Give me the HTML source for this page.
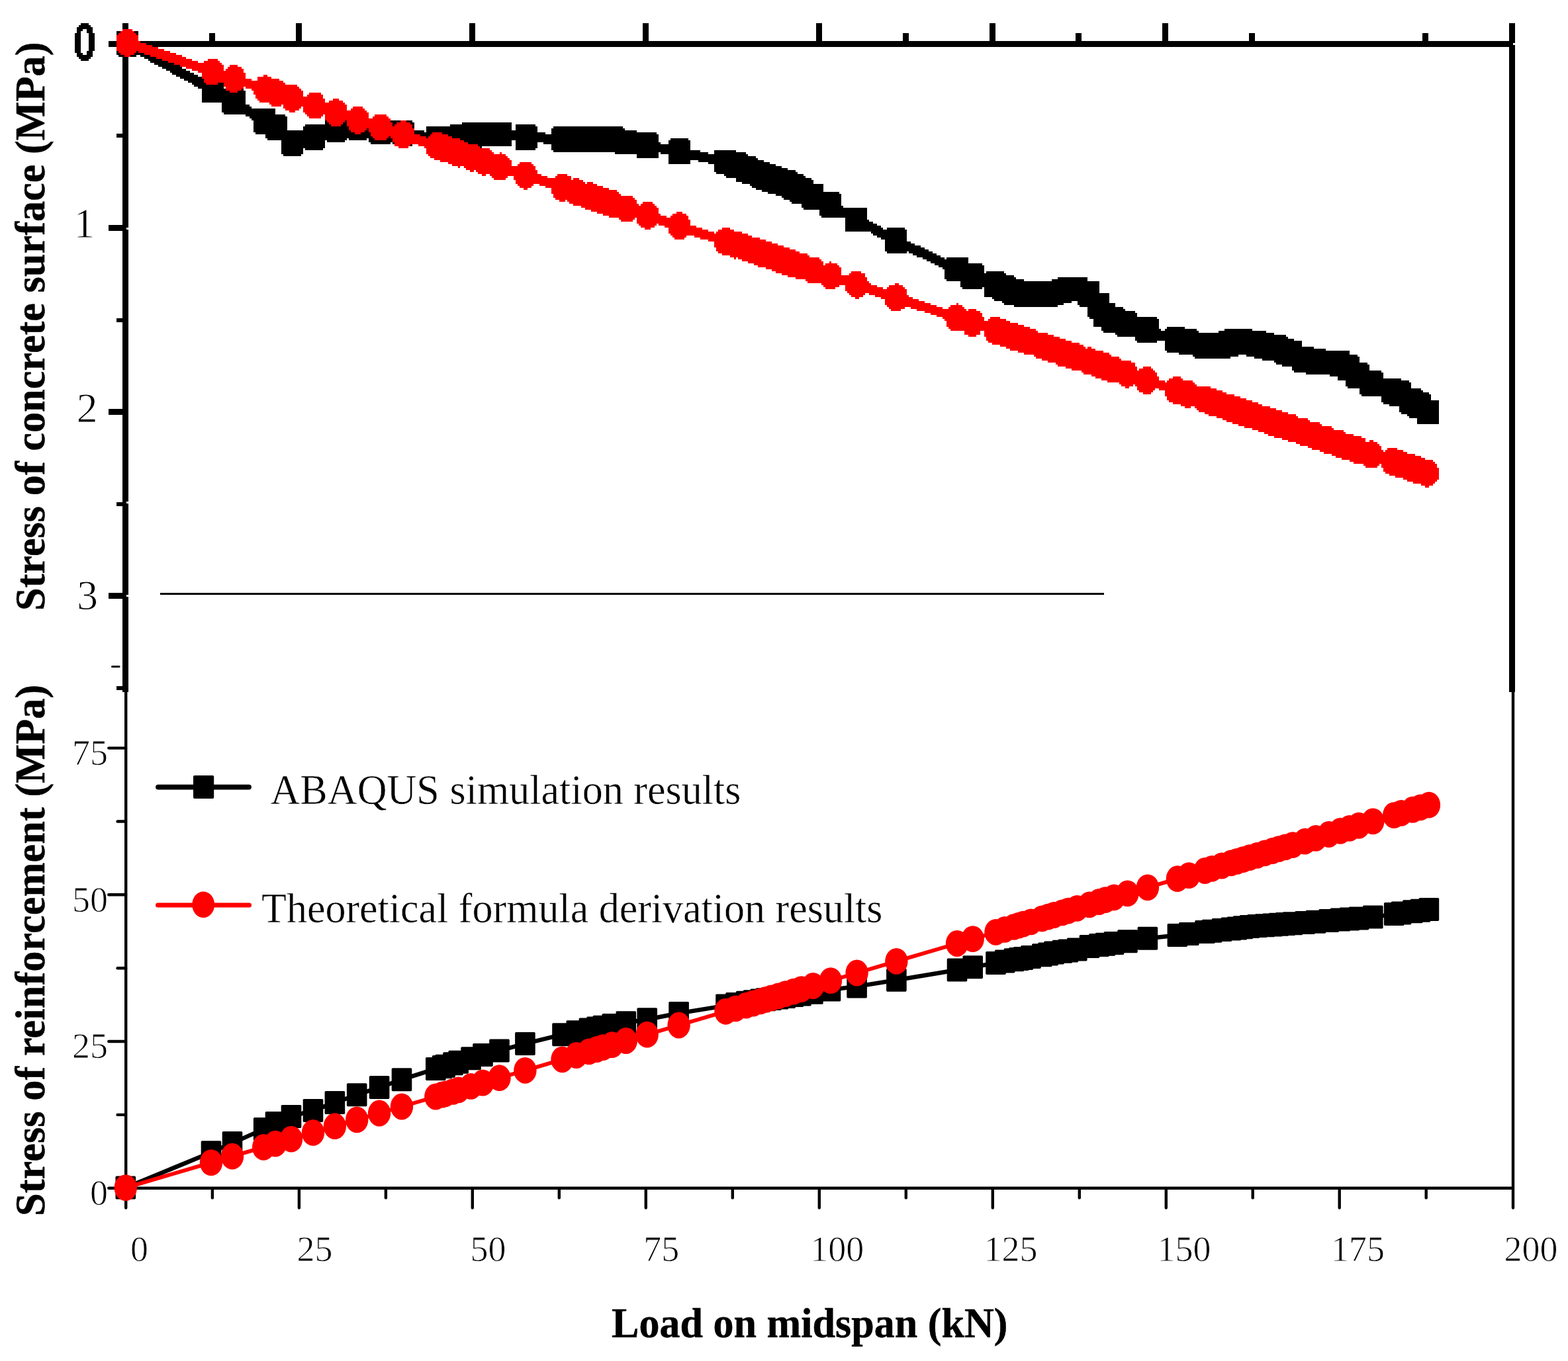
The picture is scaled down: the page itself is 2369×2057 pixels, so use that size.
<!DOCTYPE html>
<html lang="en"><head><meta charset="utf-8"><title>Stress vs load on midspan</title>
<style>html,body{margin:0;padding:0;background:#fff}body{width:2369px;height:2057px}svg{display:block}text{font-family:"Liberation Serif","Noto Serif CJK SC",serif;fill:#000}.b{font-weight:bold;stroke:#000;stroke-width:0.5px}</style></head><body>
<svg width="2369" height="2057" viewBox="0 0 2369 2057">
<defs><filter id="pix" filterUnits="userSpaceOnUse" x="0" y="0" width="2369" height="1050" color-interpolation-filters="sRGB"><feFlood x="1" y="1" width="1" height="1" flood-color="#000"/><feComposite width="3" height="3"/><feTile result="g"/><feComposite in="SourceGraphic" in2="g" operator="in"/><feComponentTransfer><feFuncA type="discrete" tableValues="0 1"/></feComponentTransfer><feMorphology operator="dilate" radius="1"/></filter></defs>
<rect width="2369" height="2057" fill="#fff"/>
<text x="197" y="1905.7" font-size="54" text-anchor="start" stroke="#fff" stroke-width="0.9">0</text>
<text x="448.5" y="1905.7" font-size="54" text-anchor="start" stroke="#fff" stroke-width="0.9">25</text>
<text x="710.5" y="1905.7" font-size="54" text-anchor="start" stroke="#fff" stroke-width="0.9">50</text>
<text x="972.3" y="1905.7" font-size="54" text-anchor="start" stroke="#fff" stroke-width="0.9">75</text>
<text x="1224.3" y="1905.7" font-size="54" text-anchor="start" stroke="#fff" stroke-width="0.9">100</text>
<text x="1486.5" y="1905.7" font-size="54" text-anchor="start" stroke="#fff" stroke-width="0.9">125</text>
<text x="1748.5" y="1905.7" font-size="54" text-anchor="start" stroke="#fff" stroke-width="0.9">150</text>
<text x="2011" y="1905.7" font-size="54" text-anchor="start" stroke="#fff" stroke-width="0.9">175</text>
<text x="2272.5" y="1905.7" font-size="54" text-anchor="start" stroke="#fff" stroke-width="0.9">200</text>
<text x="163" y="1155.9" font-size="54" text-anchor="end" stroke="#fff" stroke-width="0.9">75</text>
<text x="163" y="1377.8" font-size="54" text-anchor="end" stroke="#fff" stroke-width="0.9">50</text>
<text x="163" y="1598.8" font-size="54" text-anchor="end" stroke="#fff" stroke-width="0.9">25</text>
<text x="163" y="1820.5" font-size="54" text-anchor="end" stroke="#fff" stroke-width="0.9">0</text>
<text x="111.5" y="358.7" font-size="63.5" text-anchor="start" stroke="#fff" stroke-width="0.9">1</text>
<text x="115.8" y="637.9" font-size="63.5" text-anchor="start" stroke="#fff" stroke-width="0.9">2</text>
<text x="116.3" y="921.1" font-size="63.5" text-anchor="start" stroke="#fff" stroke-width="0.9">3</text>
<g stroke="#000" stroke-width="4.4" stroke-linecap="round" fill="none">
<path d="M190.2 1046V1825.6"/>
<path d="M2286 1046V1825.6"/>
<path d="M164.3 1795.7H2286"/>
<path d="M451.9 1796V1825.6"/>
<path d="M713.8 1796V1825.6"/>
<path d="M975.8 1796V1825.6"/>
<path d="M1237.8 1796V1825.6"/>
<path d="M1499.8 1796V1825.6"/>
<path d="M1761.8 1796V1825.6"/>
<path d="M2023.7 1796V1825.6"/>
<path d="M320.9 1796V1810.4"/>
<path d="M582.9 1796V1810.4"/>
<path d="M844.8 1796V1810.4"/>
<path d="M1106.8 1796V1810.4"/>
<path d="M1368.8 1796V1810.4"/>
<path d="M1630.8 1796V1810.4"/>
<path d="M1892.7 1796V1810.4"/>
<path d="M2154.7 1796V1810.4"/>
<path d="M164.3 1574H190"/>
<path d="M164.3 1352.3H190"/>
<path d="M164.3 1130.6H190"/>
<path d="M177.6 1684.9H190"/>
<path d="M177.6 1463.2H190"/>
<path d="M177.6 1241.5H190"/>
</g>
<path d="M169.5 1007.5H180" stroke="#000" stroke-width="3" stroke-linecap="round"/>
<path d="M242 897.4H1668" stroke="#000" stroke-width="3"/>
<g fill="#000" shape-rendering="crispEdges">
<rect x="185" y="35" width="9" height="1011"/>
<rect x="2280" y="35" width="9" height="1011"/>
<rect x="164" y="62" width="2125" height="9"/>
<rect x="447" y="35" width="9" height="28"/>
<rect x="709" y="35" width="9" height="28"/>
<rect x="971" y="35" width="9" height="28"/>
<rect x="1233" y="35" width="9" height="28"/>
<rect x="1495" y="35" width="9" height="28"/>
<rect x="1756" y="35" width="9" height="28"/>
<rect x="316" y="50" width="9" height="13"/>
<rect x="1364" y="50" width="9" height="13"/>
<rect x="1625" y="50" width="9" height="13"/>
<rect x="1887" y="50" width="9" height="13"/>
<rect x="2149" y="50" width="9" height="13"/>
<rect x="164" y="340" width="22" height="9"/>
<rect x="164" y="618" width="22" height="9"/>
<rect x="164" y="896" width="22" height="9"/>
<rect x="176" y="202" width="10" height="6"/>
<rect x="176" y="481" width="10" height="6"/>
<rect x="176" y="759" width="10" height="6"/>
<rect x="176" y="1037" width="10" height="6"/>
<path d="M2286 65h3v3h-3zM191 344h3v3h-3zM191 758h3v3h-3zM191 899h3v3h-3z" fill="#fff"/>
</g>
<g shape-rendering="crispEdges">
<polyline points="192.5,65.5 321.4,135.8 353.3,154.1 400.4,183.6 418.1,193.2 442,215.8 475,207.1 507.8,195.4 541,192.2 574.8,198.2 608.6,200.5 659.8,209 669.7,209 674,209 685.9,209 694.1,207.8 712.9,205.3 730.8,203 755.7,203.1 794.5,207 850.5,211 871.7,209.4 890.8,209.5 902.4,209.6 911.7,209.7 925.6,209.9 946.5,215.1 978.4,220.3 1026.1,229.5 1096.8,244.7 1111.8,250.3 1127.5,256.2 1138.2,260.2 1148.9,264.1 1157.2,267 1165.7,270 1176.1,273.6 1186.8,277.3 1199,282.9 1210.5,288.3 1228.4,296.8 1254.9,310.1 1294.4,332.2 1354.1,363.9 1445.4,407.1 1469.1,417.4 1503.8,430.6 1517.3,436.2 1531.2,441.1 1538.5,443 1545.1,443.6 1556.6,444.8 1573.4,444.7 1582.7,443.7 1591.6,442.8 1604,440 1612.9,437.1 1626.3,436.8 1644.9,444.6 1659.4,462.1 1668.9,475.8 1681.8,483.6 1702.3,490.3 1732.6,498.9 1777.5,514.5 1794.8,517.1 1819,522.5 1829.4,523.2 1844.4,522.5 1858.4,518.3 1867.3,514.9 1876.3,516.2 1886.3,518.2 1897.8,520.4 1909.2,522.5 1920.8,524.6 1930.2,526.6 1940.1,530.4 1951.1,534.8 1969.7,543.2 1986,545.6 2005.7,547.7 2022.9,549.3 2036.9,556 2050.9,567.4 2072.1,579.2 2103.9,592.1 2114.7,594.8 2132,606.7 2143.6,613.2 2156.5,623.2" fill="none" stroke="#000" stroke-width="10.4" stroke-linejoin="round"/>
<path d="M180.3 48.6h24.4l2.5 2.5v28.8l-2.5 2.5h-24.4l-2.5 -2.5v-28.8zM309.2 118.9h24.4l2.5 2.5v28.8l-2.5 2.5h-24.4l-2.5 -2.5v-28.8zM341.1 137.2h24.4l2.5 2.5v28.8l-2.5 2.5h-24.4l-2.5 -2.5v-28.8zM388.2 166.7h24.4l2.5 2.5v28.8l-2.5 2.5h-24.4l-2.5 -2.5v-28.8zM405.9 176.3h24.4l2.5 2.5v28.8l-2.5 2.5h-24.4l-2.5 -2.5v-28.8zM429.8 198.9h24.4l2.5 2.5v28.8l-2.5 2.5h-24.4l-2.5 -2.5v-28.8zM462.8 190.2h24.4l2.5 2.5v28.8l-2.5 2.5h-24.4l-2.5 -2.5v-28.8zM495.6 178.5h24.4l2.5 2.5v28.8l-2.5 2.5h-24.4l-2.5 -2.5v-28.8zM528.8 175.3h24.4l2.5 2.5v28.8l-2.5 2.5h-24.4l-2.5 -2.5v-28.8zM562.6 181.3h24.4l2.5 2.5v28.8l-2.5 2.5h-24.4l-2.5 -2.5v-28.8zM596.4 183.6h24.4l2.5 2.5v28.8l-2.5 2.5h-24.4l-2.5 -2.5v-28.8zM647.6 192.1h24.4l2.5 2.5v28.8l-2.5 2.5h-24.4l-2.5 -2.5v-28.8zM657.5 192.1h24.4l2.5 2.5v28.8l-2.5 2.5h-24.4l-2.5 -2.5v-28.8zM661.8 192.1h24.4l2.5 2.5v28.8l-2.5 2.5h-24.4l-2.5 -2.5v-28.8zM673.7 192.1h24.4l2.5 2.5v28.8l-2.5 2.5h-24.4l-2.5 -2.5v-28.8zM681.9 190.9h24.4l2.5 2.5v28.8l-2.5 2.5h-24.4l-2.5 -2.5v-28.8zM700.7 188.4h24.4l2.5 2.5v28.8l-2.5 2.5h-24.4l-2.5 -2.5v-28.8zM718.6 186.1h24.4l2.5 2.5v28.8l-2.5 2.5h-24.4l-2.5 -2.5v-28.8zM743.5 186.2h24.4l2.5 2.5v28.8l-2.5 2.5h-24.4l-2.5 -2.5v-28.8zM782.3 190.1h24.4l2.5 2.5v28.8l-2.5 2.5h-24.4l-2.5 -2.5v-28.8zM838.3 194.1h24.4l2.5 2.5v28.8l-2.5 2.5h-24.4l-2.5 -2.5v-28.8zM859.5 192.5h24.4l2.5 2.5v28.8l-2.5 2.5h-24.4l-2.5 -2.5v-28.8zM878.6 192.6h24.4l2.5 2.5v28.8l-2.5 2.5h-24.4l-2.5 -2.5v-28.8zM890.2 192.7h24.4l2.5 2.5v28.8l-2.5 2.5h-24.4l-2.5 -2.5v-28.8zM899.5 192.8h24.4l2.5 2.5v28.8l-2.5 2.5h-24.4l-2.5 -2.5v-28.8zM913.4 193h24.4l2.5 2.5v28.8l-2.5 2.5h-24.4l-2.5 -2.5v-28.8zM934.3 198.2h24.4l2.5 2.5v28.8l-2.5 2.5h-24.4l-2.5 -2.5v-28.8zM966.2 203.4h24.4l2.5 2.5v28.8l-2.5 2.5h-24.4l-2.5 -2.5v-28.8zM1013.9 212.6h24.4l2.5 2.5v28.8l-2.5 2.5h-24.4l-2.5 -2.5v-28.8zM1084.6 227.8h24.4l2.5 2.5v28.8l-2.5 2.5h-24.4l-2.5 -2.5v-28.8zM1099.6 233.4h24.4l2.5 2.5v28.8l-2.5 2.5h-24.4l-2.5 -2.5v-28.8zM1115.3 239.3h24.4l2.5 2.5v28.8l-2.5 2.5h-24.4l-2.5 -2.5v-28.8zM1126 243.3h24.4l2.5 2.5v28.8l-2.5 2.5h-24.4l-2.5 -2.5v-28.8zM1136.7 247.2h24.4l2.5 2.5v28.8l-2.5 2.5h-24.4l-2.5 -2.5v-28.8zM1145 250.1h24.4l2.5 2.5v28.8l-2.5 2.5h-24.4l-2.5 -2.5v-28.8zM1153.5 253.1h24.4l2.5 2.5v28.8l-2.5 2.5h-24.4l-2.5 -2.5v-28.8zM1163.9 256.7h24.4l2.5 2.5v28.8l-2.5 2.5h-24.4l-2.5 -2.5v-28.8zM1174.6 260.4h24.4l2.5 2.5v28.8l-2.5 2.5h-24.4l-2.5 -2.5v-28.8zM1186.8 266h24.4l2.5 2.5v28.8l-2.5 2.5h-24.4l-2.5 -2.5v-28.8zM1198.3 271.4h24.4l2.5 2.5v28.8l-2.5 2.5h-24.4l-2.5 -2.5v-28.8zM1216.2 279.9h24.4l2.5 2.5v28.8l-2.5 2.5h-24.4l-2.5 -2.5v-28.8zM1242.7 293.2h24.4l2.5 2.5v28.8l-2.5 2.5h-24.4l-2.5 -2.5v-28.8zM1282.2 315.3h24.4l2.5 2.5v28.8l-2.5 2.5h-24.4l-2.5 -2.5v-28.8zM1341.9 347h24.4l2.5 2.5v28.8l-2.5 2.5h-24.4l-2.5 -2.5v-28.8zM1433.2 390.2h24.4l2.5 2.5v28.8l-2.5 2.5h-24.4l-2.5 -2.5v-28.8zM1456.9 400.5h24.4l2.5 2.5v28.8l-2.5 2.5h-24.4l-2.5 -2.5v-28.8zM1491.6 413.7h24.4l2.5 2.5v28.8l-2.5 2.5h-24.4l-2.5 -2.5v-28.8zM1505.1 419.3h24.4l2.5 2.5v28.8l-2.5 2.5h-24.4l-2.5 -2.5v-28.8zM1519 424.2h24.4l2.5 2.5v28.8l-2.5 2.5h-24.4l-2.5 -2.5v-28.8zM1526.3 426.1h24.4l2.5 2.5v28.8l-2.5 2.5h-24.4l-2.5 -2.5v-28.8zM1532.9 426.7h24.4l2.5 2.5v28.8l-2.5 2.5h-24.4l-2.5 -2.5v-28.8zM1544.4 427.9h24.4l2.5 2.5v28.8l-2.5 2.5h-24.4l-2.5 -2.5v-28.8zM1561.2 427.8h24.4l2.5 2.5v28.8l-2.5 2.5h-24.4l-2.5 -2.5v-28.8zM1570.5 426.8h24.4l2.5 2.5v28.8l-2.5 2.5h-24.4l-2.5 -2.5v-28.8zM1579.4 425.9h24.4l2.5 2.5v28.8l-2.5 2.5h-24.4l-2.5 -2.5v-28.8zM1591.8 423.1h24.4l2.5 2.5v28.8l-2.5 2.5h-24.4l-2.5 -2.5v-28.8zM1600.7 420.2h24.4l2.5 2.5v28.8l-2.5 2.5h-24.4l-2.5 -2.5v-28.8zM1614.1 419.9h24.4l2.5 2.5v28.8l-2.5 2.5h-24.4l-2.5 -2.5v-28.8zM1632.7 427.7h24.4l2.5 2.5v28.8l-2.5 2.5h-24.4l-2.5 -2.5v-28.8zM1647.2 445.2h24.4l2.5 2.5v28.8l-2.5 2.5h-24.4l-2.5 -2.5v-28.8zM1656.7 458.9h24.4l2.5 2.5v28.8l-2.5 2.5h-24.4l-2.5 -2.5v-28.8zM1669.6 466.7h24.4l2.5 2.5v28.8l-2.5 2.5h-24.4l-2.5 -2.5v-28.8zM1690.1 473.4h24.4l2.5 2.5v28.8l-2.5 2.5h-24.4l-2.5 -2.5v-28.8zM1720.4 482h24.4l2.5 2.5v28.8l-2.5 2.5h-24.4l-2.5 -2.5v-28.8zM1765.3 497.6h24.4l2.5 2.5v28.8l-2.5 2.5h-24.4l-2.5 -2.5v-28.8zM1782.6 500.2h24.4l2.5 2.5v28.8l-2.5 2.5h-24.4l-2.5 -2.5v-28.8zM1806.8 505.6h24.4l2.5 2.5v28.8l-2.5 2.5h-24.4l-2.5 -2.5v-28.8zM1817.2 506.3h24.4l2.5 2.5v28.8l-2.5 2.5h-24.4l-2.5 -2.5v-28.8zM1832.2 505.6h24.4l2.5 2.5v28.8l-2.5 2.5h-24.4l-2.5 -2.5v-28.8zM1846.2 501.4h24.4l2.5 2.5v28.8l-2.5 2.5h-24.4l-2.5 -2.5v-28.8zM1855.1 498h24.4l2.5 2.5v28.8l-2.5 2.5h-24.4l-2.5 -2.5v-28.8zM1864.1 499.3h24.4l2.5 2.5v28.8l-2.5 2.5h-24.4l-2.5 -2.5v-28.8zM1874.1 501.3h24.4l2.5 2.5v28.8l-2.5 2.5h-24.4l-2.5 -2.5v-28.8zM1885.6 503.5h24.4l2.5 2.5v28.8l-2.5 2.5h-24.4l-2.5 -2.5v-28.8zM1897 505.6h24.4l2.5 2.5v28.8l-2.5 2.5h-24.4l-2.5 -2.5v-28.8zM1908.6 507.7h24.4l2.5 2.5v28.8l-2.5 2.5h-24.4l-2.5 -2.5v-28.8zM1918 509.7h24.4l2.5 2.5v28.8l-2.5 2.5h-24.4l-2.5 -2.5v-28.8zM1927.9 513.5h24.4l2.5 2.5v28.8l-2.5 2.5h-24.4l-2.5 -2.5v-28.8zM1938.9 517.9h24.4l2.5 2.5v28.8l-2.5 2.5h-24.4l-2.5 -2.5v-28.8zM1957.5 526.3h24.4l2.5 2.5v28.8l-2.5 2.5h-24.4l-2.5 -2.5v-28.8zM1973.8 528.7h24.4l2.5 2.5v28.8l-2.5 2.5h-24.4l-2.5 -2.5v-28.8zM1993.5 530.8h24.4l2.5 2.5v28.8l-2.5 2.5h-24.4l-2.5 -2.5v-28.8zM2010.7 532.4h24.4l2.5 2.5v28.8l-2.5 2.5h-24.4l-2.5 -2.5v-28.8zM2024.7 539.1h24.4l2.5 2.5v28.8l-2.5 2.5h-24.4l-2.5 -2.5v-28.8zM2038.7 550.5h24.4l2.5 2.5v28.8l-2.5 2.5h-24.4l-2.5 -2.5v-28.8zM2059.9 562.3h24.4l2.5 2.5v28.8l-2.5 2.5h-24.4l-2.5 -2.5v-28.8zM2091.7 575.2h24.4l2.5 2.5v28.8l-2.5 2.5h-24.4l-2.5 -2.5v-28.8zM2102.5 577.9h24.4l2.5 2.5v28.8l-2.5 2.5h-24.4l-2.5 -2.5v-28.8zM2119.8 589.8h24.4l2.5 2.5v28.8l-2.5 2.5h-24.4l-2.5 -2.5v-28.8zM2131.4 596.3h24.4l2.5 2.5v28.8l-2.5 2.5h-24.4l-2.5 -2.5v-28.8zM2144.3 606.3h24.4l2.5 2.5v28.8l-2.5 2.5h-24.4l-2.5 -2.5v-28.8z" fill="#000"/>
<polyline points="192.5,64.8 321.4,108.7 353.3,119.2 400.4,134.8 418.1,140.7 442,148.6 475,159.5 507.8,170.3 541,181.3 574.8,192.4 608.6,203.6 659.8,220.5 669.7,223.8 674,225.2 685.9,229.1 694.1,231.9 712.9,238.1 730.8,244 755.7,252.2 794.5,265 850.5,283.5 871.7,290.5 890.8,296.8 902.4,300.7 911.7,303.8 925.6,308.3 946.5,315.3 978.4,325.8 1026.1,341.6 1096.8,364.9 1111.8,369.9 1127.5,375 1138.2,378.6 1148.9,382.1 1157.2,384.9 1165.7,387.7 1176.1,391.1 1186.8,394.6 1199,398.7 1210.5,402.5 1228.4,408.4 1254.9,417.2 1294.4,430.2 1354.1,449.9 1445.4,480.1 1469.1,487.9 1503.8,499.4 1517.3,503.9 1531.2,508.4 1538.5,510.8 1545.1,513 1556.6,516.8 1573.4,522.4 1582.7,525.4 1591.6,528.4 1604,532.5 1612.9,535.4 1626.3,539.8 1644.9,546 1659.4,550.8 1668.9,553.9 1681.8,558.2 1702.3,565 1732.6,575 1777.5,589.8 1794.8,595.5 1819,603.5 1829.4,607 1844.4,611.9 1858.4,616.5 1867.3,619.5 1876.3,622.5 1886.3,625.8 1897.8,629.5 1909.2,633.3 1920.8,637.2 1930.2,640.3 1940.1,643.5 1951.1,647.2 1969.7,653.3 1986,658.7 2005.7,665.2 2022.9,670.9 2036.9,675.5 2050.9,680.1 2072.1,687.1 2103.9,697.7 2114.7,701.2 2132,707 2143.6,710.8 2156.5,715" fill="none" stroke="#fe0000" stroke-width="10.4" stroke-linejoin="round"/>
<path d="M177 64.8a15.5 18.5 0 1 0 31 0a15.5 18.5 0 1 0 -31 0zM305.9 108.7a15.5 18.5 0 1 0 31 0a15.5 18.5 0 1 0 -31 0zM337.8 119.2a15.5 18.5 0 1 0 31 0a15.5 18.5 0 1 0 -31 0zM384.9 134.8a15.5 18.5 0 1 0 31 0a15.5 18.5 0 1 0 -31 0zM402.6 140.7a15.5 18.5 0 1 0 31 0a15.5 18.5 0 1 0 -31 0zM426.5 148.6a15.5 18.5 0 1 0 31 0a15.5 18.5 0 1 0 -31 0zM459.5 159.5a15.5 18.5 0 1 0 31 0a15.5 18.5 0 1 0 -31 0zM492.3 170.3a15.5 18.5 0 1 0 31 0a15.5 18.5 0 1 0 -31 0zM525.5 181.3a15.5 18.5 0 1 0 31 0a15.5 18.5 0 1 0 -31 0zM559.3 192.4a15.5 18.5 0 1 0 31 0a15.5 18.5 0 1 0 -31 0zM593.1 203.6a15.5 18.5 0 1 0 31 0a15.5 18.5 0 1 0 -31 0zM644.3 220.5a15.5 18.5 0 1 0 31 0a15.5 18.5 0 1 0 -31 0zM654.2 223.8a15.5 18.5 0 1 0 31 0a15.5 18.5 0 1 0 -31 0zM658.5 225.2a15.5 18.5 0 1 0 31 0a15.5 18.5 0 1 0 -31 0zM670.4 229.1a15.5 18.5 0 1 0 31 0a15.5 18.5 0 1 0 -31 0zM678.6 231.9a15.5 18.5 0 1 0 31 0a15.5 18.5 0 1 0 -31 0zM697.4 238.1a15.5 18.5 0 1 0 31 0a15.5 18.5 0 1 0 -31 0zM715.3 244a15.5 18.5 0 1 0 31 0a15.5 18.5 0 1 0 -31 0zM740.2 252.2a15.5 18.5 0 1 0 31 0a15.5 18.5 0 1 0 -31 0zM779 265a15.5 18.5 0 1 0 31 0a15.5 18.5 0 1 0 -31 0zM835 283.5a15.5 18.5 0 1 0 31 0a15.5 18.5 0 1 0 -31 0zM856.2 290.5a15.5 18.5 0 1 0 31 0a15.5 18.5 0 1 0 -31 0zM875.3 296.8a15.5 18.5 0 1 0 31 0a15.5 18.5 0 1 0 -31 0zM886.9 300.7a15.5 18.5 0 1 0 31 0a15.5 18.5 0 1 0 -31 0zM896.2 303.8a15.5 18.5 0 1 0 31 0a15.5 18.5 0 1 0 -31 0zM910.1 308.3a15.5 18.5 0 1 0 31 0a15.5 18.5 0 1 0 -31 0zM931 315.3a15.5 18.5 0 1 0 31 0a15.5 18.5 0 1 0 -31 0zM962.9 325.8a15.5 18.5 0 1 0 31 0a15.5 18.5 0 1 0 -31 0zM1010.6 341.6a15.5 18.5 0 1 0 31 0a15.5 18.5 0 1 0 -31 0zM1081.3 364.9a15.5 18.5 0 1 0 31 0a15.5 18.5 0 1 0 -31 0zM1096.3 369.9a15.5 18.5 0 1 0 31 0a15.5 18.5 0 1 0 -31 0zM1112 375a15.5 18.5 0 1 0 31 0a15.5 18.5 0 1 0 -31 0zM1122.7 378.6a15.5 18.5 0 1 0 31 0a15.5 18.5 0 1 0 -31 0zM1133.4 382.1a15.5 18.5 0 1 0 31 0a15.5 18.5 0 1 0 -31 0zM1141.7 384.9a15.5 18.5 0 1 0 31 0a15.5 18.5 0 1 0 -31 0zM1150.2 387.7a15.5 18.5 0 1 0 31 0a15.5 18.5 0 1 0 -31 0zM1160.6 391.1a15.5 18.5 0 1 0 31 0a15.5 18.5 0 1 0 -31 0zM1171.3 394.6a15.5 18.5 0 1 0 31 0a15.5 18.5 0 1 0 -31 0zM1183.5 398.7a15.5 18.5 0 1 0 31 0a15.5 18.5 0 1 0 -31 0zM1195 402.5a15.5 18.5 0 1 0 31 0a15.5 18.5 0 1 0 -31 0zM1212.9 408.4a15.5 18.5 0 1 0 31 0a15.5 18.5 0 1 0 -31 0zM1239.4 417.2a15.5 18.5 0 1 0 31 0a15.5 18.5 0 1 0 -31 0zM1278.9 430.2a15.5 18.5 0 1 0 31 0a15.5 18.5 0 1 0 -31 0zM1338.6 449.9a15.5 18.5 0 1 0 31 0a15.5 18.5 0 1 0 -31 0zM1429.9 480.1a15.5 18.5 0 1 0 31 0a15.5 18.5 0 1 0 -31 0zM1453.6 487.9a15.5 18.5 0 1 0 31 0a15.5 18.5 0 1 0 -31 0zM1488.3 499.4a15.5 18.5 0 1 0 31 0a15.5 18.5 0 1 0 -31 0zM1501.8 503.9a15.5 18.5 0 1 0 31 0a15.5 18.5 0 1 0 -31 0zM1515.7 508.4a15.5 18.5 0 1 0 31 0a15.5 18.5 0 1 0 -31 0zM1523 510.8a15.5 18.5 0 1 0 31 0a15.5 18.5 0 1 0 -31 0zM1529.6 513a15.5 18.5 0 1 0 31 0a15.5 18.5 0 1 0 -31 0zM1541.1 516.8a15.5 18.5 0 1 0 31 0a15.5 18.5 0 1 0 -31 0zM1557.9 522.4a15.5 18.5 0 1 0 31 0a15.5 18.5 0 1 0 -31 0zM1567.2 525.4a15.5 18.5 0 1 0 31 0a15.5 18.5 0 1 0 -31 0zM1576.1 528.4a15.5 18.5 0 1 0 31 0a15.5 18.5 0 1 0 -31 0zM1588.5 532.5a15.5 18.5 0 1 0 31 0a15.5 18.5 0 1 0 -31 0zM1597.4 535.4a15.5 18.5 0 1 0 31 0a15.5 18.5 0 1 0 -31 0zM1610.8 539.8a15.5 18.5 0 1 0 31 0a15.5 18.5 0 1 0 -31 0zM1629.4 546a15.5 18.5 0 1 0 31 0a15.5 18.5 0 1 0 -31 0zM1643.9 550.8a15.5 18.5 0 1 0 31 0a15.5 18.5 0 1 0 -31 0zM1653.4 553.9a15.5 18.5 0 1 0 31 0a15.5 18.5 0 1 0 -31 0zM1666.3 558.2a15.5 18.5 0 1 0 31 0a15.5 18.5 0 1 0 -31 0zM1686.8 565a15.5 18.5 0 1 0 31 0a15.5 18.5 0 1 0 -31 0zM1717.1 575a15.5 18.5 0 1 0 31 0a15.5 18.5 0 1 0 -31 0zM1762 589.8a15.5 18.5 0 1 0 31 0a15.5 18.5 0 1 0 -31 0zM1779.3 595.5a15.5 18.5 0 1 0 31 0a15.5 18.5 0 1 0 -31 0zM1803.5 603.5a15.5 18.5 0 1 0 31 0a15.5 18.5 0 1 0 -31 0zM1813.9 607a15.5 18.5 0 1 0 31 0a15.5 18.5 0 1 0 -31 0zM1828.9 611.9a15.5 18.5 0 1 0 31 0a15.5 18.5 0 1 0 -31 0zM1842.9 616.5a15.5 18.5 0 1 0 31 0a15.5 18.5 0 1 0 -31 0zM1851.8 619.5a15.5 18.5 0 1 0 31 0a15.5 18.5 0 1 0 -31 0zM1860.8 622.5a15.5 18.5 0 1 0 31 0a15.5 18.5 0 1 0 -31 0zM1870.8 625.8a15.5 18.5 0 1 0 31 0a15.5 18.5 0 1 0 -31 0zM1882.3 629.5a15.5 18.5 0 1 0 31 0a15.5 18.5 0 1 0 -31 0zM1893.7 633.3a15.5 18.5 0 1 0 31 0a15.5 18.5 0 1 0 -31 0zM1905.3 637.2a15.5 18.5 0 1 0 31 0a15.5 18.5 0 1 0 -31 0zM1914.7 640.3a15.5 18.5 0 1 0 31 0a15.5 18.5 0 1 0 -31 0zM1924.6 643.5a15.5 18.5 0 1 0 31 0a15.5 18.5 0 1 0 -31 0zM1935.6 647.2a15.5 18.5 0 1 0 31 0a15.5 18.5 0 1 0 -31 0zM1954.2 653.3a15.5 18.5 0 1 0 31 0a15.5 18.5 0 1 0 -31 0zM1970.5 658.7a15.5 18.5 0 1 0 31 0a15.5 18.5 0 1 0 -31 0zM1990.2 665.2a15.5 18.5 0 1 0 31 0a15.5 18.5 0 1 0 -31 0zM2007.4 670.9a15.5 18.5 0 1 0 31 0a15.5 18.5 0 1 0 -31 0zM2021.4 675.5a15.5 18.5 0 1 0 31 0a15.5 18.5 0 1 0 -31 0zM2035.4 680.1a15.5 18.5 0 1 0 31 0a15.5 18.5 0 1 0 -31 0zM2056.6 687.1a15.5 18.5 0 1 0 31 0a15.5 18.5 0 1 0 -31 0zM2088.4 697.7a15.5 18.5 0 1 0 31 0a15.5 18.5 0 1 0 -31 0zM2099.2 701.2a15.5 18.5 0 1 0 31 0a15.5 18.5 0 1 0 -31 0zM2116.5 707a15.5 18.5 0 1 0 31 0a15.5 18.5 0 1 0 -31 0zM2128.1 710.8a15.5 18.5 0 1 0 31 0a15.5 18.5 0 1 0 -31 0zM2141 715a15.5 18.5 0 1 0 31 0a15.5 18.5 0 1 0 -31 0z" fill="#fe0000"/>
</g>
<g transform="translate(2 2)"><g filter="url(#pix)" shape-rendering="crispEdges"><g transform="translate(-2 -2)">
<polyline points="192.5,65.5 321.4,135.8 353.3,154.1 400.4,183.6 418.1,193.2 442,215.8 475,207.1 507.8,195.4 541,192.2 574.8,198.2 608.6,200.5 659.8,209 669.7,209 674,209 685.9,209 694.1,207.8 712.9,205.3 730.8,203 755.7,203.1 794.5,207 850.5,211 871.7,209.4 890.8,209.5 902.4,209.6 911.7,209.7 925.6,209.9 946.5,215.1 978.4,220.3 1026.1,229.5 1096.8,244.7 1111.8,250.3 1127.5,256.2 1138.2,260.2 1148.9,264.1 1157.2,267 1165.7,270 1176.1,273.6 1186.8,277.3 1199,282.9 1210.5,288.3 1228.4,296.8 1254.9,310.1 1294.4,332.2 1354.1,363.9 1445.4,407.1 1469.1,417.4 1503.8,430.6 1517.3,436.2 1531.2,441.1 1538.5,443 1545.1,443.6 1556.6,444.8 1573.4,444.7 1582.7,443.7 1591.6,442.8 1604,440 1612.9,437.1 1626.3,436.8 1644.9,444.6 1659.4,462.1 1668.9,475.8 1681.8,483.6 1702.3,490.3 1732.6,498.9 1777.5,514.5 1794.8,517.1 1819,522.5 1829.4,523.2 1844.4,522.5 1858.4,518.3 1867.3,514.9 1876.3,516.2 1886.3,518.2 1897.8,520.4 1909.2,522.5 1920.8,524.6 1930.2,526.6 1940.1,530.4 1951.1,534.8 1969.7,543.2 1986,545.6 2005.7,547.7 2022.9,549.3 2036.9,556 2050.9,567.4 2072.1,579.2 2103.9,592.1 2114.7,594.8 2132,606.7 2143.6,613.2 2156.5,623.2" fill="none" stroke="#000" stroke-width="15" stroke-linejoin="round"/>
<path d="M179 46.3h27l3.5 3.5v31.4l-3.5 3.5h-27l-3.5 -3.5v-31.4zM307.9 116.6h27l3.5 3.5v31.4l-3.5 3.5h-27l-3.5 -3.5v-31.4zM339.8 134.9h27l3.5 3.5v31.4l-3.5 3.5h-27l-3.5 -3.5v-31.4zM386.9 164.4h27l3.5 3.5v31.4l-3.5 3.5h-27l-3.5 -3.5v-31.4zM404.6 174h27l3.5 3.5v31.4l-3.5 3.5h-27l-3.5 -3.5v-31.4zM428.5 196.6h27l3.5 3.5v31.4l-3.5 3.5h-27l-3.5 -3.5v-31.4zM461.5 187.9h27l3.5 3.5v31.4l-3.5 3.5h-27l-3.5 -3.5v-31.4zM494.3 176.2h27l3.5 3.5v31.4l-3.5 3.5h-27l-3.5 -3.5v-31.4zM527.5 173h27l3.5 3.5v31.4l-3.5 3.5h-27l-3.5 -3.5v-31.4zM561.3 179h27l3.5 3.5v31.4l-3.5 3.5h-27l-3.5 -3.5v-31.4zM595.1 181.3h27l3.5 3.5v31.4l-3.5 3.5h-27l-3.5 -3.5v-31.4zM646.3 189.8h27l3.5 3.5v31.4l-3.5 3.5h-27l-3.5 -3.5v-31.4zM656.2 189.8h27l3.5 3.5v31.4l-3.5 3.5h-27l-3.5 -3.5v-31.4zM660.5 189.8h27l3.5 3.5v31.4l-3.5 3.5h-27l-3.5 -3.5v-31.4zM672.4 189.8h27l3.5 3.5v31.4l-3.5 3.5h-27l-3.5 -3.5v-31.4zM680.6 188.6h27l3.5 3.5v31.4l-3.5 3.5h-27l-3.5 -3.5v-31.4zM699.4 186.1h27l3.5 3.5v31.4l-3.5 3.5h-27l-3.5 -3.5v-31.4zM717.3 183.8h27l3.5 3.5v31.4l-3.5 3.5h-27l-3.5 -3.5v-31.4zM742.2 183.9h27l3.5 3.5v31.4l-3.5 3.5h-27l-3.5 -3.5v-31.4zM781 187.8h27l3.5 3.5v31.4l-3.5 3.5h-27l-3.5 -3.5v-31.4zM837 191.8h27l3.5 3.5v31.4l-3.5 3.5h-27l-3.5 -3.5v-31.4zM858.2 190.2h27l3.5 3.5v31.4l-3.5 3.5h-27l-3.5 -3.5v-31.4zM877.3 190.3h27l3.5 3.5v31.4l-3.5 3.5h-27l-3.5 -3.5v-31.4zM888.9 190.4h27l3.5 3.5v31.4l-3.5 3.5h-27l-3.5 -3.5v-31.4zM898.2 190.5h27l3.5 3.5v31.4l-3.5 3.5h-27l-3.5 -3.5v-31.4zM912.1 190.7h27l3.5 3.5v31.4l-3.5 3.5h-27l-3.5 -3.5v-31.4zM933 195.9h27l3.5 3.5v31.4l-3.5 3.5h-27l-3.5 -3.5v-31.4zM964.9 201.1h27l3.5 3.5v31.4l-3.5 3.5h-27l-3.5 -3.5v-31.4zM1012.6 210.3h27l3.5 3.5v31.4l-3.5 3.5h-27l-3.5 -3.5v-31.4zM1083.3 225.5h27l3.5 3.5v31.4l-3.5 3.5h-27l-3.5 -3.5v-31.4zM1098.3 231.1h27l3.5 3.5v31.4l-3.5 3.5h-27l-3.5 -3.5v-31.4zM1114 237h27l3.5 3.5v31.4l-3.5 3.5h-27l-3.5 -3.5v-31.4zM1124.7 241h27l3.5 3.5v31.4l-3.5 3.5h-27l-3.5 -3.5v-31.4zM1135.4 244.9h27l3.5 3.5v31.4l-3.5 3.5h-27l-3.5 -3.5v-31.4zM1143.7 247.8h27l3.5 3.5v31.4l-3.5 3.5h-27l-3.5 -3.5v-31.4zM1152.2 250.8h27l3.5 3.5v31.4l-3.5 3.5h-27l-3.5 -3.5v-31.4zM1162.6 254.4h27l3.5 3.5v31.4l-3.5 3.5h-27l-3.5 -3.5v-31.4zM1173.3 258.1h27l3.5 3.5v31.4l-3.5 3.5h-27l-3.5 -3.5v-31.4zM1185.5 263.7h27l3.5 3.5v31.4l-3.5 3.5h-27l-3.5 -3.5v-31.4zM1197 269.1h27l3.5 3.5v31.4l-3.5 3.5h-27l-3.5 -3.5v-31.4zM1214.9 277.6h27l3.5 3.5v31.4l-3.5 3.5h-27l-3.5 -3.5v-31.4zM1241.4 290.9h27l3.5 3.5v31.4l-3.5 3.5h-27l-3.5 -3.5v-31.4zM1280.9 313h27l3.5 3.5v31.4l-3.5 3.5h-27l-3.5 -3.5v-31.4zM1340.6 344.7h27l3.5 3.5v31.4l-3.5 3.5h-27l-3.5 -3.5v-31.4zM1431.9 387.9h27l3.5 3.5v31.4l-3.5 3.5h-27l-3.5 -3.5v-31.4zM1455.6 398.2h27l3.5 3.5v31.4l-3.5 3.5h-27l-3.5 -3.5v-31.4zM1490.3 411.4h27l3.5 3.5v31.4l-3.5 3.5h-27l-3.5 -3.5v-31.4zM1503.8 417h27l3.5 3.5v31.4l-3.5 3.5h-27l-3.5 -3.5v-31.4zM1517.7 421.9h27l3.5 3.5v31.4l-3.5 3.5h-27l-3.5 -3.5v-31.4zM1525 423.8h27l3.5 3.5v31.4l-3.5 3.5h-27l-3.5 -3.5v-31.4zM1531.6 424.4h27l3.5 3.5v31.4l-3.5 3.5h-27l-3.5 -3.5v-31.4zM1543.1 425.6h27l3.5 3.5v31.4l-3.5 3.5h-27l-3.5 -3.5v-31.4zM1559.9 425.5h27l3.5 3.5v31.4l-3.5 3.5h-27l-3.5 -3.5v-31.4zM1569.2 424.5h27l3.5 3.5v31.4l-3.5 3.5h-27l-3.5 -3.5v-31.4zM1578.1 423.6h27l3.5 3.5v31.4l-3.5 3.5h-27l-3.5 -3.5v-31.4zM1590.5 420.8h27l3.5 3.5v31.4l-3.5 3.5h-27l-3.5 -3.5v-31.4zM1599.4 417.9h27l3.5 3.5v31.4l-3.5 3.5h-27l-3.5 -3.5v-31.4zM1612.8 417.6h27l3.5 3.5v31.4l-3.5 3.5h-27l-3.5 -3.5v-31.4zM1631.4 425.4h27l3.5 3.5v31.4l-3.5 3.5h-27l-3.5 -3.5v-31.4zM1645.9 442.9h27l3.5 3.5v31.4l-3.5 3.5h-27l-3.5 -3.5v-31.4zM1655.4 456.6h27l3.5 3.5v31.4l-3.5 3.5h-27l-3.5 -3.5v-31.4zM1668.3 464.4h27l3.5 3.5v31.4l-3.5 3.5h-27l-3.5 -3.5v-31.4zM1688.8 471.1h27l3.5 3.5v31.4l-3.5 3.5h-27l-3.5 -3.5v-31.4zM1719.1 479.7h27l3.5 3.5v31.4l-3.5 3.5h-27l-3.5 -3.5v-31.4zM1764 495.3h27l3.5 3.5v31.4l-3.5 3.5h-27l-3.5 -3.5v-31.4zM1781.3 497.9h27l3.5 3.5v31.4l-3.5 3.5h-27l-3.5 -3.5v-31.4zM1805.5 503.3h27l3.5 3.5v31.4l-3.5 3.5h-27l-3.5 -3.5v-31.4zM1815.9 504h27l3.5 3.5v31.4l-3.5 3.5h-27l-3.5 -3.5v-31.4zM1830.9 503.3h27l3.5 3.5v31.4l-3.5 3.5h-27l-3.5 -3.5v-31.4zM1844.9 499.1h27l3.5 3.5v31.4l-3.5 3.5h-27l-3.5 -3.5v-31.4zM1853.8 495.7h27l3.5 3.5v31.4l-3.5 3.5h-27l-3.5 -3.5v-31.4zM1862.8 497h27l3.5 3.5v31.4l-3.5 3.5h-27l-3.5 -3.5v-31.4zM1872.8 499h27l3.5 3.5v31.4l-3.5 3.5h-27l-3.5 -3.5v-31.4zM1884.3 501.2h27l3.5 3.5v31.4l-3.5 3.5h-27l-3.5 -3.5v-31.4zM1895.7 503.3h27l3.5 3.5v31.4l-3.5 3.5h-27l-3.5 -3.5v-31.4zM1907.3 505.4h27l3.5 3.5v31.4l-3.5 3.5h-27l-3.5 -3.5v-31.4zM1916.7 507.4h27l3.5 3.5v31.4l-3.5 3.5h-27l-3.5 -3.5v-31.4zM1926.6 511.2h27l3.5 3.5v31.4l-3.5 3.5h-27l-3.5 -3.5v-31.4zM1937.6 515.6h27l3.5 3.5v31.4l-3.5 3.5h-27l-3.5 -3.5v-31.4zM1956.2 524h27l3.5 3.5v31.4l-3.5 3.5h-27l-3.5 -3.5v-31.4zM1972.5 526.4h27l3.5 3.5v31.4l-3.5 3.5h-27l-3.5 -3.5v-31.4zM1992.2 528.5h27l3.5 3.5v31.4l-3.5 3.5h-27l-3.5 -3.5v-31.4zM2009.4 530.1h27l3.5 3.5v31.4l-3.5 3.5h-27l-3.5 -3.5v-31.4zM2023.4 536.8h27l3.5 3.5v31.4l-3.5 3.5h-27l-3.5 -3.5v-31.4zM2037.4 548.2h27l3.5 3.5v31.4l-3.5 3.5h-27l-3.5 -3.5v-31.4zM2058.6 560h27l3.5 3.5v31.4l-3.5 3.5h-27l-3.5 -3.5v-31.4zM2090.4 572.9h27l3.5 3.5v31.4l-3.5 3.5h-27l-3.5 -3.5v-31.4zM2101.2 575.6h27l3.5 3.5v31.4l-3.5 3.5h-27l-3.5 -3.5v-31.4zM2118.5 587.5h27l3.5 3.5v31.4l-3.5 3.5h-27l-3.5 -3.5v-31.4zM2130.1 594h27l3.5 3.5v31.4l-3.5 3.5h-27l-3.5 -3.5v-31.4zM2143 604h27l3.5 3.5v31.4l-3.5 3.5h-27l-3.5 -3.5v-31.4z" fill="#000"/>
<polyline points="192.5,64.8 321.4,108.7 353.3,119.2 400.4,134.8 418.1,140.7 442,148.6 475,159.5 507.8,170.3 541,181.3 574.8,192.4 608.6,203.6 659.8,220.5 669.7,223.8 674,225.2 685.9,229.1 694.1,231.9 712.9,238.1 730.8,244 755.7,252.2 794.5,265 850.5,283.5 871.7,290.5 890.8,296.8 902.4,300.7 911.7,303.8 925.6,308.3 946.5,315.3 978.4,325.8 1026.1,341.6 1096.8,364.9 1111.8,369.9 1127.5,375 1138.2,378.6 1148.9,382.1 1157.2,384.9 1165.7,387.7 1176.1,391.1 1186.8,394.6 1199,398.7 1210.5,402.5 1228.4,408.4 1254.9,417.2 1294.4,430.2 1354.1,449.9 1445.4,480.1 1469.1,487.9 1503.8,499.4 1517.3,503.9 1531.2,508.4 1538.5,510.8 1545.1,513 1556.6,516.8 1573.4,522.4 1582.7,525.4 1591.6,528.4 1604,532.5 1612.9,535.4 1626.3,539.8 1644.9,546 1659.4,550.8 1668.9,553.9 1681.8,558.2 1702.3,565 1732.6,575 1777.5,589.8 1794.8,595.5 1819,603.5 1829.4,607 1844.4,611.9 1858.4,616.5 1867.3,619.5 1876.3,622.5 1886.3,625.8 1897.8,629.5 1909.2,633.3 1920.8,637.2 1930.2,640.3 1940.1,643.5 1951.1,647.2 1969.7,653.3 1986,658.7 2005.7,665.2 2022.9,670.9 2036.9,675.5 2050.9,680.1 2072.1,687.1 2103.9,697.7 2114.7,701.2 2132,707 2143.6,710.8 2156.5,715" fill="none" stroke="#fe0000" stroke-width="15" stroke-linejoin="round"/>
<path d="M174.7 64.8a17.8 20.8 0 1 0 35.6 0a17.8 20.8 0 1 0 -35.6 0zM303.6 108.7a17.8 20.8 0 1 0 35.6 0a17.8 20.8 0 1 0 -35.6 0zM335.5 119.2a17.8 20.8 0 1 0 35.6 0a17.8 20.8 0 1 0 -35.6 0zM382.6 134.8a17.8 20.8 0 1 0 35.6 0a17.8 20.8 0 1 0 -35.6 0zM400.3 140.7a17.8 20.8 0 1 0 35.6 0a17.8 20.8 0 1 0 -35.6 0zM424.2 148.6a17.8 20.8 0 1 0 35.6 0a17.8 20.8 0 1 0 -35.6 0zM457.2 159.5a17.8 20.8 0 1 0 35.6 0a17.8 20.8 0 1 0 -35.6 0zM490 170.3a17.8 20.8 0 1 0 35.6 0a17.8 20.8 0 1 0 -35.6 0zM523.2 181.3a17.8 20.8 0 1 0 35.6 0a17.8 20.8 0 1 0 -35.6 0zM557 192.4a17.8 20.8 0 1 0 35.6 0a17.8 20.8 0 1 0 -35.6 0zM590.8 203.6a17.8 20.8 0 1 0 35.6 0a17.8 20.8 0 1 0 -35.6 0zM642 220.5a17.8 20.8 0 1 0 35.6 0a17.8 20.8 0 1 0 -35.6 0zM651.9 223.8a17.8 20.8 0 1 0 35.6 0a17.8 20.8 0 1 0 -35.6 0zM656.2 225.2a17.8 20.8 0 1 0 35.6 0a17.8 20.8 0 1 0 -35.6 0zM668.1 229.1a17.8 20.8 0 1 0 35.6 0a17.8 20.8 0 1 0 -35.6 0zM676.3 231.9a17.8 20.8 0 1 0 35.6 0a17.8 20.8 0 1 0 -35.6 0zM695.1 238.1a17.8 20.8 0 1 0 35.6 0a17.8 20.8 0 1 0 -35.6 0zM713 244a17.8 20.8 0 1 0 35.6 0a17.8 20.8 0 1 0 -35.6 0zM737.9 252.2a17.8 20.8 0 1 0 35.6 0a17.8 20.8 0 1 0 -35.6 0zM776.7 265a17.8 20.8 0 1 0 35.6 0a17.8 20.8 0 1 0 -35.6 0zM832.7 283.5a17.8 20.8 0 1 0 35.6 0a17.8 20.8 0 1 0 -35.6 0zM853.9 290.5a17.8 20.8 0 1 0 35.6 0a17.8 20.8 0 1 0 -35.6 0zM873 296.8a17.8 20.8 0 1 0 35.6 0a17.8 20.8 0 1 0 -35.6 0zM884.6 300.7a17.8 20.8 0 1 0 35.6 0a17.8 20.8 0 1 0 -35.6 0zM893.9 303.8a17.8 20.8 0 1 0 35.6 0a17.8 20.8 0 1 0 -35.6 0zM907.8 308.3a17.8 20.8 0 1 0 35.6 0a17.8 20.8 0 1 0 -35.6 0zM928.7 315.3a17.8 20.8 0 1 0 35.6 0a17.8 20.8 0 1 0 -35.6 0zM960.6 325.8a17.8 20.8 0 1 0 35.6 0a17.8 20.8 0 1 0 -35.6 0zM1008.3 341.6a17.8 20.8 0 1 0 35.6 0a17.8 20.8 0 1 0 -35.6 0zM1079 364.9a17.8 20.8 0 1 0 35.6 0a17.8 20.8 0 1 0 -35.6 0zM1094 369.9a17.8 20.8 0 1 0 35.6 0a17.8 20.8 0 1 0 -35.6 0zM1109.7 375a17.8 20.8 0 1 0 35.6 0a17.8 20.8 0 1 0 -35.6 0zM1120.4 378.6a17.8 20.8 0 1 0 35.6 0a17.8 20.8 0 1 0 -35.6 0zM1131.1 382.1a17.8 20.8 0 1 0 35.6 0a17.8 20.8 0 1 0 -35.6 0zM1139.4 384.9a17.8 20.8 0 1 0 35.6 0a17.8 20.8 0 1 0 -35.6 0zM1147.9 387.7a17.8 20.8 0 1 0 35.6 0a17.8 20.8 0 1 0 -35.6 0zM1158.3 391.1a17.8 20.8 0 1 0 35.6 0a17.8 20.8 0 1 0 -35.6 0zM1169 394.6a17.8 20.8 0 1 0 35.6 0a17.8 20.8 0 1 0 -35.6 0zM1181.2 398.7a17.8 20.8 0 1 0 35.6 0a17.8 20.8 0 1 0 -35.6 0zM1192.7 402.5a17.8 20.8 0 1 0 35.6 0a17.8 20.8 0 1 0 -35.6 0zM1210.6 408.4a17.8 20.8 0 1 0 35.6 0a17.8 20.8 0 1 0 -35.6 0zM1237.1 417.2a17.8 20.8 0 1 0 35.6 0a17.8 20.8 0 1 0 -35.6 0zM1276.6 430.2a17.8 20.8 0 1 0 35.6 0a17.8 20.8 0 1 0 -35.6 0zM1336.3 449.9a17.8 20.8 0 1 0 35.6 0a17.8 20.8 0 1 0 -35.6 0zM1427.6 480.1a17.8 20.8 0 1 0 35.6 0a17.8 20.8 0 1 0 -35.6 0zM1451.3 487.9a17.8 20.8 0 1 0 35.6 0a17.8 20.8 0 1 0 -35.6 0zM1486 499.4a17.8 20.8 0 1 0 35.6 0a17.8 20.8 0 1 0 -35.6 0zM1499.5 503.9a17.8 20.8 0 1 0 35.6 0a17.8 20.8 0 1 0 -35.6 0zM1513.4 508.4a17.8 20.8 0 1 0 35.6 0a17.8 20.8 0 1 0 -35.6 0zM1520.7 510.8a17.8 20.8 0 1 0 35.6 0a17.8 20.8 0 1 0 -35.6 0zM1527.3 513a17.8 20.8 0 1 0 35.6 0a17.8 20.8 0 1 0 -35.6 0zM1538.8 516.8a17.8 20.8 0 1 0 35.6 0a17.8 20.8 0 1 0 -35.6 0zM1555.6 522.4a17.8 20.8 0 1 0 35.6 0a17.8 20.8 0 1 0 -35.6 0zM1564.9 525.4a17.8 20.8 0 1 0 35.6 0a17.8 20.8 0 1 0 -35.6 0zM1573.8 528.4a17.8 20.8 0 1 0 35.6 0a17.8 20.8 0 1 0 -35.6 0zM1586.2 532.5a17.8 20.8 0 1 0 35.6 0a17.8 20.8 0 1 0 -35.6 0zM1595.1 535.4a17.8 20.8 0 1 0 35.6 0a17.8 20.8 0 1 0 -35.6 0zM1608.5 539.8a17.8 20.8 0 1 0 35.6 0a17.8 20.8 0 1 0 -35.6 0zM1627.1 546a17.8 20.8 0 1 0 35.6 0a17.8 20.8 0 1 0 -35.6 0zM1641.6 550.8a17.8 20.8 0 1 0 35.6 0a17.8 20.8 0 1 0 -35.6 0zM1651.1 553.9a17.8 20.8 0 1 0 35.6 0a17.8 20.8 0 1 0 -35.6 0zM1664 558.2a17.8 20.8 0 1 0 35.6 0a17.8 20.8 0 1 0 -35.6 0zM1684.5 565a17.8 20.8 0 1 0 35.6 0a17.8 20.8 0 1 0 -35.6 0zM1714.8 575a17.8 20.8 0 1 0 35.6 0a17.8 20.8 0 1 0 -35.6 0zM1759.7 589.8a17.8 20.8 0 1 0 35.6 0a17.8 20.8 0 1 0 -35.6 0zM1777 595.5a17.8 20.8 0 1 0 35.6 0a17.8 20.8 0 1 0 -35.6 0zM1801.2 603.5a17.8 20.8 0 1 0 35.6 0a17.8 20.8 0 1 0 -35.6 0zM1811.6 607a17.8 20.8 0 1 0 35.6 0a17.8 20.8 0 1 0 -35.6 0zM1826.6 611.9a17.8 20.8 0 1 0 35.6 0a17.8 20.8 0 1 0 -35.6 0zM1840.6 616.5a17.8 20.8 0 1 0 35.6 0a17.8 20.8 0 1 0 -35.6 0zM1849.5 619.5a17.8 20.8 0 1 0 35.6 0a17.8 20.8 0 1 0 -35.6 0zM1858.5 622.5a17.8 20.8 0 1 0 35.6 0a17.8 20.8 0 1 0 -35.6 0zM1868.5 625.8a17.8 20.8 0 1 0 35.6 0a17.8 20.8 0 1 0 -35.6 0zM1880 629.5a17.8 20.8 0 1 0 35.6 0a17.8 20.8 0 1 0 -35.6 0zM1891.4 633.3a17.8 20.8 0 1 0 35.6 0a17.8 20.8 0 1 0 -35.6 0zM1903 637.2a17.8 20.8 0 1 0 35.6 0a17.8 20.8 0 1 0 -35.6 0zM1912.4 640.3a17.8 20.8 0 1 0 35.6 0a17.8 20.8 0 1 0 -35.6 0zM1922.3 643.5a17.8 20.8 0 1 0 35.6 0a17.8 20.8 0 1 0 -35.6 0zM1933.3 647.2a17.8 20.8 0 1 0 35.6 0a17.8 20.8 0 1 0 -35.6 0zM1951.9 653.3a17.8 20.8 0 1 0 35.6 0a17.8 20.8 0 1 0 -35.6 0zM1968.2 658.7a17.8 20.8 0 1 0 35.6 0a17.8 20.8 0 1 0 -35.6 0zM1987.9 665.2a17.8 20.8 0 1 0 35.6 0a17.8 20.8 0 1 0 -35.6 0zM2005.1 670.9a17.8 20.8 0 1 0 35.6 0a17.8 20.8 0 1 0 -35.6 0zM2019.1 675.5a17.8 20.8 0 1 0 35.6 0a17.8 20.8 0 1 0 -35.6 0zM2033.1 680.1a17.8 20.8 0 1 0 35.6 0a17.8 20.8 0 1 0 -35.6 0zM2054.3 687.1a17.8 20.8 0 1 0 35.6 0a17.8 20.8 0 1 0 -35.6 0zM2086.1 697.7a17.8 20.8 0 1 0 35.6 0a17.8 20.8 0 1 0 -35.6 0zM2096.9 701.2a17.8 20.8 0 1 0 35.6 0a17.8 20.8 0 1 0 -35.6 0zM2114.2 707a17.8 20.8 0 1 0 35.6 0a17.8 20.8 0 1 0 -35.6 0zM2125.8 710.8a17.8 20.8 0 1 0 35.6 0a17.8 20.8 0 1 0 -35.6 0zM2138.7 715a17.8 20.8 0 1 0 35.6 0a17.8 20.8 0 1 0 -35.6 0z" fill="#fe0000"/>
<text transform="translate(112.5 89) scale(0.79 1)" font-size="78" style="stroke:#000;stroke-width:4.8px">0</text>
</g></g></g>
<polyline points="189.8,1795.1 319,1741.8 351,1727.6 398.2,1706.6 416,1697.6 440,1687.4 473,1678.4 505.9,1666.6 539.2,1654.7 573.1,1643.5 607,1631.7 658.3,1615.4 668.2,1612.5 672.6,1611.2 684.5,1607.7 692.7,1605.3 711.6,1599.7 729.5,1594.4 754.5,1588 793.4,1577.4 849.5,1563.7 870.8,1559.7 889.9,1556.1 901.6,1553.9 910.9,1552.2 924.8,1549.6 945.8,1545.7 977.7,1540.7 1025.6,1531.4 1096.5,1519.9 1111.5,1517.6 1127.2,1515.3 1138,1513.7 1148.7,1512.1 1157,1510.8 1165.5,1509.6 1176,1508 1186.7,1506.4 1198.9,1504.6 1210.5,1502.9 1228.4,1500.2 1255,1496 1294.6,1490.9 1354.4,1481.2 1446,1466 1469.7,1461.8 1504.5,1455.4 1518.1,1453.1 1532,1450.8 1539.3,1449.6 1545.9,1448.5 1557.5,1446.5 1574.3,1443.7 1583.6,1441.9 1592.5,1440.1 1605,1438.2 1613.9,1436.9 1627.3,1434.9 1646,1430.6 1660.5,1428.5 1670,1427.3 1683,1425.5 1703.5,1422.7 1733.9,1418.3 1778.9,1413.4 1796.3,1411.4 1820.5,1408.5 1831,1407.3 1846,1405.5 1860,1403.9 1869,1402.9 1878,1401.8 1888,1400.6 1899.5,1399.5 1911,1398.7 1922.6,1397.9 1932,1397.2 1942,1396.5 1953,1395.8 1971.6,1394.5 1988,1393.2 2007.7,1391.6 2025,1390.1 2039,1389 2053,1387.9 2074.3,1386.1 2106.2,1381.5 2117,1380.1 2134.4,1377.8 2146,1376.2 2158.9,1374.5" fill="none" stroke="#000" stroke-width="6.5" stroke-linejoin="round"/>
<path d="M175.7 1777.6h28.2l1.2 1.2v32.6l-1.2 1.2h-28.2l-1.2 -1.2v-32.6zM304.9 1724.3h28.2l1.2 1.2v32.6l-1.2 1.2h-28.2l-1.2 -1.2v-32.6zM336.9 1710.1h28.2l1.2 1.2v32.6l-1.2 1.2h-28.2l-1.2 -1.2v-32.6zM384.1 1689.1h28.2l1.2 1.2v32.6l-1.2 1.2h-28.2l-1.2 -1.2v-32.6zM401.9 1680.1h28.2l1.2 1.2v32.6l-1.2 1.2h-28.2l-1.2 -1.2v-32.6zM425.9 1669.9h28.2l1.2 1.2v32.6l-1.2 1.2h-28.2l-1.2 -1.2v-32.6zM458.9 1660.9h28.2l1.2 1.2v32.6l-1.2 1.2h-28.2l-1.2 -1.2v-32.6zM491.8 1649.1h28.2l1.2 1.2v32.6l-1.2 1.2h-28.2l-1.2 -1.2v-32.6zM525.1 1637.2h28.2l1.2 1.2v32.6l-1.2 1.2h-28.2l-1.2 -1.2v-32.6zM559 1626h28.2l1.2 1.2v32.6l-1.2 1.2h-28.2l-1.2 -1.2v-32.6zM592.9 1614.2h28.2l1.2 1.2v32.6l-1.2 1.2h-28.2l-1.2 -1.2v-32.6zM644.2 1597.9h28.2l1.2 1.2v32.6l-1.2 1.2h-28.2l-1.2 -1.2v-32.6zM654.1 1595h28.2l1.2 1.2v32.6l-1.2 1.2h-28.2l-1.2 -1.2v-32.6zM658.5 1593.7h28.2l1.2 1.2v32.6l-1.2 1.2h-28.2l-1.2 -1.2v-32.6zM670.4 1590.2h28.2l1.2 1.2v32.6l-1.2 1.2h-28.2l-1.2 -1.2v-32.6zM678.6 1587.8h28.2l1.2 1.2v32.6l-1.2 1.2h-28.2l-1.2 -1.2v-32.6zM697.5 1582.2h28.2l1.2 1.2v32.6l-1.2 1.2h-28.2l-1.2 -1.2v-32.6zM715.4 1576.9h28.2l1.2 1.2v32.6l-1.2 1.2h-28.2l-1.2 -1.2v-32.6zM740.4 1570.5h28.2l1.2 1.2v32.6l-1.2 1.2h-28.2l-1.2 -1.2v-32.6zM779.3 1559.9h28.2l1.2 1.2v32.6l-1.2 1.2h-28.2l-1.2 -1.2v-32.6zM835.4 1546.2h28.2l1.2 1.2v32.6l-1.2 1.2h-28.2l-1.2 -1.2v-32.6zM856.7 1542.2h28.2l1.2 1.2v32.6l-1.2 1.2h-28.2l-1.2 -1.2v-32.6zM875.8 1538.6h28.2l1.2 1.2v32.6l-1.2 1.2h-28.2l-1.2 -1.2v-32.6zM887.5 1536.4h28.2l1.2 1.2v32.6l-1.2 1.2h-28.2l-1.2 -1.2v-32.6zM896.8 1534.7h28.2l1.2 1.2v32.6l-1.2 1.2h-28.2l-1.2 -1.2v-32.6zM910.7 1532.1h28.2l1.2 1.2v32.6l-1.2 1.2h-28.2l-1.2 -1.2v-32.6zM931.7 1528.2h28.2l1.2 1.2v32.6l-1.2 1.2h-28.2l-1.2 -1.2v-32.6zM963.6 1523.2h28.2l1.2 1.2v32.6l-1.2 1.2h-28.2l-1.2 -1.2v-32.6zM1011.5 1513.9h28.2l1.2 1.2v32.6l-1.2 1.2h-28.2l-1.2 -1.2v-32.6zM1082.4 1502.4h28.2l1.2 1.2v32.6l-1.2 1.2h-28.2l-1.2 -1.2v-32.6zM1097.4 1500.1h28.2l1.2 1.2v32.6l-1.2 1.2h-28.2l-1.2 -1.2v-32.6zM1113.1 1497.8h28.2l1.2 1.2v32.6l-1.2 1.2h-28.2l-1.2 -1.2v-32.6zM1123.9 1496.2h28.2l1.2 1.2v32.6l-1.2 1.2h-28.2l-1.2 -1.2v-32.6zM1134.6 1494.6h28.2l1.2 1.2v32.6l-1.2 1.2h-28.2l-1.2 -1.2v-32.6zM1142.9 1493.3h28.2l1.2 1.2v32.6l-1.2 1.2h-28.2l-1.2 -1.2v-32.6zM1151.4 1492.1h28.2l1.2 1.2v32.6l-1.2 1.2h-28.2l-1.2 -1.2v-32.6zM1161.9 1490.5h28.2l1.2 1.2v32.6l-1.2 1.2h-28.2l-1.2 -1.2v-32.6zM1172.6 1488.9h28.2l1.2 1.2v32.6l-1.2 1.2h-28.2l-1.2 -1.2v-32.6zM1184.8 1487.1h28.2l1.2 1.2v32.6l-1.2 1.2h-28.2l-1.2 -1.2v-32.6zM1196.4 1485.4h28.2l1.2 1.2v32.6l-1.2 1.2h-28.2l-1.2 -1.2v-32.6zM1214.3 1482.7h28.2l1.2 1.2v32.6l-1.2 1.2h-28.2l-1.2 -1.2v-32.6zM1240.9 1478.5h28.2l1.2 1.2v32.6l-1.2 1.2h-28.2l-1.2 -1.2v-32.6zM1280.5 1473.4h28.2l1.2 1.2v32.6l-1.2 1.2h-28.2l-1.2 -1.2v-32.6zM1340.3 1463.7h28.2l1.2 1.2v32.6l-1.2 1.2h-28.2l-1.2 -1.2v-32.6zM1431.9 1448.5h28.2l1.2 1.2v32.6l-1.2 1.2h-28.2l-1.2 -1.2v-32.6zM1455.6 1444.3h28.2l1.2 1.2v32.6l-1.2 1.2h-28.2l-1.2 -1.2v-32.6zM1490.4 1437.9h28.2l1.2 1.2v32.6l-1.2 1.2h-28.2l-1.2 -1.2v-32.6zM1504 1435.6h28.2l1.2 1.2v32.6l-1.2 1.2h-28.2l-1.2 -1.2v-32.6zM1517.9 1433.3h28.2l1.2 1.2v32.6l-1.2 1.2h-28.2l-1.2 -1.2v-32.6zM1525.2 1432.1h28.2l1.2 1.2v32.6l-1.2 1.2h-28.2l-1.2 -1.2v-32.6zM1531.8 1431h28.2l1.2 1.2v32.6l-1.2 1.2h-28.2l-1.2 -1.2v-32.6zM1543.4 1429h28.2l1.2 1.2v32.6l-1.2 1.2h-28.2l-1.2 -1.2v-32.6zM1560.2 1426.2h28.2l1.2 1.2v32.6l-1.2 1.2h-28.2l-1.2 -1.2v-32.6zM1569.5 1424.4h28.2l1.2 1.2v32.6l-1.2 1.2h-28.2l-1.2 -1.2v-32.6zM1578.4 1422.6h28.2l1.2 1.2v32.6l-1.2 1.2h-28.2l-1.2 -1.2v-32.6zM1590.9 1420.7h28.2l1.2 1.2v32.6l-1.2 1.2h-28.2l-1.2 -1.2v-32.6zM1599.8 1419.4h28.2l1.2 1.2v32.6l-1.2 1.2h-28.2l-1.2 -1.2v-32.6zM1613.2 1417.4h28.2l1.2 1.2v32.6l-1.2 1.2h-28.2l-1.2 -1.2v-32.6zM1631.9 1413.1h28.2l1.2 1.2v32.6l-1.2 1.2h-28.2l-1.2 -1.2v-32.6zM1646.4 1411h28.2l1.2 1.2v32.6l-1.2 1.2h-28.2l-1.2 -1.2v-32.6zM1655.9 1409.8h28.2l1.2 1.2v32.6l-1.2 1.2h-28.2l-1.2 -1.2v-32.6zM1668.9 1408h28.2l1.2 1.2v32.6l-1.2 1.2h-28.2l-1.2 -1.2v-32.6zM1689.4 1405.2h28.2l1.2 1.2v32.6l-1.2 1.2h-28.2l-1.2 -1.2v-32.6zM1719.8 1400.8h28.2l1.2 1.2v32.6l-1.2 1.2h-28.2l-1.2 -1.2v-32.6zM1764.8 1395.9h28.2l1.2 1.2v32.6l-1.2 1.2h-28.2l-1.2 -1.2v-32.6zM1782.2 1393.9h28.2l1.2 1.2v32.6l-1.2 1.2h-28.2l-1.2 -1.2v-32.6zM1806.4 1391h28.2l1.2 1.2v32.6l-1.2 1.2h-28.2l-1.2 -1.2v-32.6zM1816.9 1389.8h28.2l1.2 1.2v32.6l-1.2 1.2h-28.2l-1.2 -1.2v-32.6zM1831.9 1388h28.2l1.2 1.2v32.6l-1.2 1.2h-28.2l-1.2 -1.2v-32.6zM1845.9 1386.4h28.2l1.2 1.2v32.6l-1.2 1.2h-28.2l-1.2 -1.2v-32.6zM1854.9 1385.4h28.2l1.2 1.2v32.6l-1.2 1.2h-28.2l-1.2 -1.2v-32.6zM1863.9 1384.3h28.2l1.2 1.2v32.6l-1.2 1.2h-28.2l-1.2 -1.2v-32.6zM1873.9 1383.1h28.2l1.2 1.2v32.6l-1.2 1.2h-28.2l-1.2 -1.2v-32.6zM1885.4 1382h28.2l1.2 1.2v32.6l-1.2 1.2h-28.2l-1.2 -1.2v-32.6zM1896.9 1381.2h28.2l1.2 1.2v32.6l-1.2 1.2h-28.2l-1.2 -1.2v-32.6zM1908.5 1380.4h28.2l1.2 1.2v32.6l-1.2 1.2h-28.2l-1.2 -1.2v-32.6zM1917.9 1379.7h28.2l1.2 1.2v32.6l-1.2 1.2h-28.2l-1.2 -1.2v-32.6zM1927.9 1379h28.2l1.2 1.2v32.6l-1.2 1.2h-28.2l-1.2 -1.2v-32.6zM1938.9 1378.3h28.2l1.2 1.2v32.6l-1.2 1.2h-28.2l-1.2 -1.2v-32.6zM1957.5 1377h28.2l1.2 1.2v32.6l-1.2 1.2h-28.2l-1.2 -1.2v-32.6zM1973.9 1375.7h28.2l1.2 1.2v32.6l-1.2 1.2h-28.2l-1.2 -1.2v-32.6zM1993.6 1374.1h28.2l1.2 1.2v32.6l-1.2 1.2h-28.2l-1.2 -1.2v-32.6zM2010.9 1372.6h28.2l1.2 1.2v32.6l-1.2 1.2h-28.2l-1.2 -1.2v-32.6zM2024.9 1371.5h28.2l1.2 1.2v32.6l-1.2 1.2h-28.2l-1.2 -1.2v-32.6zM2038.9 1370.4h28.2l1.2 1.2v32.6l-1.2 1.2h-28.2l-1.2 -1.2v-32.6zM2060.2 1368.6h28.2l1.2 1.2v32.6l-1.2 1.2h-28.2l-1.2 -1.2v-32.6zM2092.1 1364h28.2l1.2 1.2v32.6l-1.2 1.2h-28.2l-1.2 -1.2v-32.6zM2102.9 1362.6h28.2l1.2 1.2v32.6l-1.2 1.2h-28.2l-1.2 -1.2v-32.6zM2120.3 1360.3h28.2l1.2 1.2v32.6l-1.2 1.2h-28.2l-1.2 -1.2v-32.6zM2131.9 1358.7h28.2l1.2 1.2v32.6l-1.2 1.2h-28.2l-1.2 -1.2v-32.6zM2144.8 1357h28.2l1.2 1.2v32.6l-1.2 1.2h-28.2l-1.2 -1.2v-32.6z" fill="#000"/>
<polyline points="189.8,1795.1 319,1757.1 351,1747.7 398.2,1733.9 416,1728.6 440,1721.6 473,1711.9 505.9,1702.2 539.2,1692.4 573.1,1682.5 607,1672.5 658.3,1657.5 668.2,1654.5 672.6,1653.3 684.5,1649.8 692.7,1647.3 711.6,1641.8 729.5,1636.5 754.5,1629.2 793.4,1617.8 849.5,1601.3 870.8,1595 889.9,1589.4 901.6,1586 910.9,1583.2 924.8,1579.2 945.8,1573 977.7,1563.6 1025.6,1549.5 1096.5,1528.7 1111.5,1524.3 1127.2,1519.7 1138,1516.5 1148.7,1513.4 1157,1510.9 1165.5,1508.4 1176,1505.4 1186.7,1502.2 1198.9,1498.6 1210.5,1495.2 1228.4,1490 1255,1482.1 1294.6,1470.5 1354.4,1452.9 1446,1426 1469.7,1419.1 1504.5,1408.8 1518.1,1404.8 1532,1400.8 1539.3,1398.6 1545.9,1396.7 1557.5,1393.3 1574.3,1388.3 1583.6,1385.6 1592.5,1383 1605,1379.3 1613.9,1376.7 1627.3,1372.8 1646,1367.3 1660.5,1363 1670,1360.2 1683,1356.4 1703.5,1350.4 1733.9,1341.4 1778.9,1328.2 1796.3,1323.1 1820.5,1316 1831,1312.9 1846,1308.5 1860,1304.4 1869,1301.8 1878,1299.1 1888,1296.2 1899.5,1292.8 1911,1289.4 1922.6,1286 1932,1283.2 1942,1280.3 1953,1277.1 1971.6,1271.6 1988,1266.8 2007.7,1261 2025,1255.9 2039,1251.8 2053,1247.7 2074.3,1241.4 2106.2,1232.1 2117,1228.9 2134.4,1223.8 2146,1220.4 2158.9,1216.6" fill="none" stroke="#fe0000" stroke-width="5.9" stroke-linejoin="round"/>
<path d="M172.6 1795.1a17.2 19.9 0 1 0 34.4 0a17.2 19.9 0 1 0 -34.4 0zM301.8 1757.1a17.2 19.9 0 1 0 34.4 0a17.2 19.9 0 1 0 -34.4 0zM333.8 1747.7a17.2 19.9 0 1 0 34.4 0a17.2 19.9 0 1 0 -34.4 0zM381 1733.9a17.2 19.9 0 1 0 34.4 0a17.2 19.9 0 1 0 -34.4 0zM398.8 1728.6a17.2 19.9 0 1 0 34.4 0a17.2 19.9 0 1 0 -34.4 0zM422.8 1721.6a17.2 19.9 0 1 0 34.4 0a17.2 19.9 0 1 0 -34.4 0zM455.8 1711.9a17.2 19.9 0 1 0 34.4 0a17.2 19.9 0 1 0 -34.4 0zM488.7 1702.2a17.2 19.9 0 1 0 34.4 0a17.2 19.9 0 1 0 -34.4 0zM522 1692.4a17.2 19.9 0 1 0 34.4 0a17.2 19.9 0 1 0 -34.4 0zM555.9 1682.5a17.2 19.9 0 1 0 34.4 0a17.2 19.9 0 1 0 -34.4 0zM589.8 1672.5a17.2 19.9 0 1 0 34.4 0a17.2 19.9 0 1 0 -34.4 0zM641.1 1657.5a17.2 19.9 0 1 0 34.4 0a17.2 19.9 0 1 0 -34.4 0zM651 1654.5a17.2 19.9 0 1 0 34.4 0a17.2 19.9 0 1 0 -34.4 0zM655.4 1653.3a17.2 19.9 0 1 0 34.4 0a17.2 19.9 0 1 0 -34.4 0zM667.3 1649.8a17.2 19.9 0 1 0 34.4 0a17.2 19.9 0 1 0 -34.4 0zM675.5 1647.3a17.2 19.9 0 1 0 34.4 0a17.2 19.9 0 1 0 -34.4 0zM694.4 1641.8a17.2 19.9 0 1 0 34.4 0a17.2 19.9 0 1 0 -34.4 0zM712.3 1636.5a17.2 19.9 0 1 0 34.4 0a17.2 19.9 0 1 0 -34.4 0zM737.3 1629.2a17.2 19.9 0 1 0 34.4 0a17.2 19.9 0 1 0 -34.4 0zM776.2 1617.8a17.2 19.9 0 1 0 34.4 0a17.2 19.9 0 1 0 -34.4 0zM832.3 1601.3a17.2 19.9 0 1 0 34.4 0a17.2 19.9 0 1 0 -34.4 0zM853.6 1595a17.2 19.9 0 1 0 34.4 0a17.2 19.9 0 1 0 -34.4 0zM872.7 1589.4a17.2 19.9 0 1 0 34.4 0a17.2 19.9 0 1 0 -34.4 0zM884.4 1586a17.2 19.9 0 1 0 34.4 0a17.2 19.9 0 1 0 -34.4 0zM893.7 1583.2a17.2 19.9 0 1 0 34.4 0a17.2 19.9 0 1 0 -34.4 0zM907.6 1579.2a17.2 19.9 0 1 0 34.4 0a17.2 19.9 0 1 0 -34.4 0zM928.6 1573a17.2 19.9 0 1 0 34.4 0a17.2 19.9 0 1 0 -34.4 0zM960.5 1563.6a17.2 19.9 0 1 0 34.4 0a17.2 19.9 0 1 0 -34.4 0zM1008.4 1549.5a17.2 19.9 0 1 0 34.4 0a17.2 19.9 0 1 0 -34.4 0zM1079.3 1528.7a17.2 19.9 0 1 0 34.4 0a17.2 19.9 0 1 0 -34.4 0zM1094.3 1524.3a17.2 19.9 0 1 0 34.4 0a17.2 19.9 0 1 0 -34.4 0zM1110 1519.7a17.2 19.9 0 1 0 34.4 0a17.2 19.9 0 1 0 -34.4 0zM1120.8 1516.5a17.2 19.9 0 1 0 34.4 0a17.2 19.9 0 1 0 -34.4 0zM1131.5 1513.4a17.2 19.9 0 1 0 34.4 0a17.2 19.9 0 1 0 -34.4 0zM1139.8 1510.9a17.2 19.9 0 1 0 34.4 0a17.2 19.9 0 1 0 -34.4 0zM1148.3 1508.4a17.2 19.9 0 1 0 34.4 0a17.2 19.9 0 1 0 -34.4 0zM1158.8 1505.4a17.2 19.9 0 1 0 34.4 0a17.2 19.9 0 1 0 -34.4 0zM1169.5 1502.2a17.2 19.9 0 1 0 34.4 0a17.2 19.9 0 1 0 -34.4 0zM1181.7 1498.6a17.2 19.9 0 1 0 34.4 0a17.2 19.9 0 1 0 -34.4 0zM1193.3 1495.2a17.2 19.9 0 1 0 34.4 0a17.2 19.9 0 1 0 -34.4 0zM1211.2 1490a17.2 19.9 0 1 0 34.4 0a17.2 19.9 0 1 0 -34.4 0zM1237.8 1482.1a17.2 19.9 0 1 0 34.4 0a17.2 19.9 0 1 0 -34.4 0zM1277.4 1470.5a17.2 19.9 0 1 0 34.4 0a17.2 19.9 0 1 0 -34.4 0zM1337.2 1452.9a17.2 19.9 0 1 0 34.4 0a17.2 19.9 0 1 0 -34.4 0zM1428.8 1426a17.2 19.9 0 1 0 34.4 0a17.2 19.9 0 1 0 -34.4 0zM1452.5 1419.1a17.2 19.9 0 1 0 34.4 0a17.2 19.9 0 1 0 -34.4 0zM1487.3 1408.8a17.2 19.9 0 1 0 34.4 0a17.2 19.9 0 1 0 -34.4 0zM1500.9 1404.8a17.2 19.9 0 1 0 34.4 0a17.2 19.9 0 1 0 -34.4 0zM1514.8 1400.8a17.2 19.9 0 1 0 34.4 0a17.2 19.9 0 1 0 -34.4 0zM1522.1 1398.6a17.2 19.9 0 1 0 34.4 0a17.2 19.9 0 1 0 -34.4 0zM1528.7 1396.7a17.2 19.9 0 1 0 34.4 0a17.2 19.9 0 1 0 -34.4 0zM1540.3 1393.3a17.2 19.9 0 1 0 34.4 0a17.2 19.9 0 1 0 -34.4 0zM1557.1 1388.3a17.2 19.9 0 1 0 34.4 0a17.2 19.9 0 1 0 -34.4 0zM1566.4 1385.6a17.2 19.9 0 1 0 34.4 0a17.2 19.9 0 1 0 -34.4 0zM1575.3 1383a17.2 19.9 0 1 0 34.4 0a17.2 19.9 0 1 0 -34.4 0zM1587.8 1379.3a17.2 19.9 0 1 0 34.4 0a17.2 19.9 0 1 0 -34.4 0zM1596.7 1376.7a17.2 19.9 0 1 0 34.4 0a17.2 19.9 0 1 0 -34.4 0zM1610.1 1372.8a17.2 19.9 0 1 0 34.4 0a17.2 19.9 0 1 0 -34.4 0zM1628.8 1367.3a17.2 19.9 0 1 0 34.4 0a17.2 19.9 0 1 0 -34.4 0zM1643.3 1363a17.2 19.9 0 1 0 34.4 0a17.2 19.9 0 1 0 -34.4 0zM1652.8 1360.2a17.2 19.9 0 1 0 34.4 0a17.2 19.9 0 1 0 -34.4 0zM1665.8 1356.4a17.2 19.9 0 1 0 34.4 0a17.2 19.9 0 1 0 -34.4 0zM1686.3 1350.4a17.2 19.9 0 1 0 34.4 0a17.2 19.9 0 1 0 -34.4 0zM1716.7 1341.4a17.2 19.9 0 1 0 34.4 0a17.2 19.9 0 1 0 -34.4 0zM1761.7 1328.2a17.2 19.9 0 1 0 34.4 0a17.2 19.9 0 1 0 -34.4 0zM1779.1 1323.1a17.2 19.9 0 1 0 34.4 0a17.2 19.9 0 1 0 -34.4 0zM1803.3 1316a17.2 19.9 0 1 0 34.4 0a17.2 19.9 0 1 0 -34.4 0zM1813.8 1312.9a17.2 19.9 0 1 0 34.4 0a17.2 19.9 0 1 0 -34.4 0zM1828.8 1308.5a17.2 19.9 0 1 0 34.4 0a17.2 19.9 0 1 0 -34.4 0zM1842.8 1304.4a17.2 19.9 0 1 0 34.4 0a17.2 19.9 0 1 0 -34.4 0zM1851.8 1301.8a17.2 19.9 0 1 0 34.4 0a17.2 19.9 0 1 0 -34.4 0zM1860.8 1299.1a17.2 19.9 0 1 0 34.4 0a17.2 19.9 0 1 0 -34.4 0zM1870.8 1296.2a17.2 19.9 0 1 0 34.4 0a17.2 19.9 0 1 0 -34.4 0zM1882.3 1292.8a17.2 19.9 0 1 0 34.4 0a17.2 19.9 0 1 0 -34.4 0zM1893.8 1289.4a17.2 19.9 0 1 0 34.4 0a17.2 19.9 0 1 0 -34.4 0zM1905.4 1286a17.2 19.9 0 1 0 34.4 0a17.2 19.9 0 1 0 -34.4 0zM1914.8 1283.2a17.2 19.9 0 1 0 34.4 0a17.2 19.9 0 1 0 -34.4 0zM1924.8 1280.3a17.2 19.9 0 1 0 34.4 0a17.2 19.9 0 1 0 -34.4 0zM1935.8 1277.1a17.2 19.9 0 1 0 34.4 0a17.2 19.9 0 1 0 -34.4 0zM1954.4 1271.6a17.2 19.9 0 1 0 34.4 0a17.2 19.9 0 1 0 -34.4 0zM1970.8 1266.8a17.2 19.9 0 1 0 34.4 0a17.2 19.9 0 1 0 -34.4 0zM1990.5 1261a17.2 19.9 0 1 0 34.4 0a17.2 19.9 0 1 0 -34.4 0zM2007.8 1255.9a17.2 19.9 0 1 0 34.4 0a17.2 19.9 0 1 0 -34.4 0zM2021.8 1251.8a17.2 19.9 0 1 0 34.4 0a17.2 19.9 0 1 0 -34.4 0zM2035.8 1247.7a17.2 19.9 0 1 0 34.4 0a17.2 19.9 0 1 0 -34.4 0zM2057.1 1241.4a17.2 19.9 0 1 0 34.4 0a17.2 19.9 0 1 0 -34.4 0zM2089 1232.1a17.2 19.9 0 1 0 34.4 0a17.2 19.9 0 1 0 -34.4 0zM2099.8 1228.9a17.2 19.9 0 1 0 34.4 0a17.2 19.9 0 1 0 -34.4 0zM2117.2 1223.8a17.2 19.9 0 1 0 34.4 0a17.2 19.9 0 1 0 -34.4 0zM2128.8 1220.4a17.2 19.9 0 1 0 34.4 0a17.2 19.9 0 1 0 -34.4 0zM2141.7 1216.6a17.2 19.9 0 1 0 34.4 0a17.2 19.9 0 1 0 -34.4 0z" fill="#fe0000"/>
<path d="M239 1189.6H376" stroke="#000" stroke-width="7.8" stroke-linecap="round"/>
<rect x="292" y="1172" width="31.2" height="35" rx="2" fill="#000"/>
<path d="M238.5 1368.1H376.5" stroke="#fe0000" stroke-width="7" stroke-linecap="round"/>
<ellipse cx="307.2" cy="1367.2" rx="17" ry="19.7" fill="#fe0000"/>
<text id="leg1" stroke="#fff" stroke-width="0.5" transform="translate(408.5 1215.3) scale(1 1.035)" font-size="62.1" textLength="711" lengthAdjust="spacing">ABAQUS simulation results</text>
<text id="leg2" stroke="#fff" stroke-width="0.5" transform="translate(395 1393.6) scale(1 1.035)" font-size="62.1" textLength="938.5" lengthAdjust="spacing">Theoretical formula derivation results</text>
<text id="xt" class="b" transform="translate(924 2020.7) scale(1 1.02)" font-size="62" textLength="598.5" lengthAdjust="spacing">Load on midspan (kN)</text>
<text id="yt1" class="b" transform="translate(67 923) rotate(-90) scale(1 1.012)" font-size="62.3" textLength="859.5" lengthAdjust="spacing">Stress of concrete surface (MPa)</text>
<text id="yt2" class="b" transform="translate(67 1838) rotate(-90) scale(1 1.012)" font-size="62.3" textLength="803.3" lengthAdjust="spacing">Stress of reinforcement (MPa)</text>
</svg></body></html>
